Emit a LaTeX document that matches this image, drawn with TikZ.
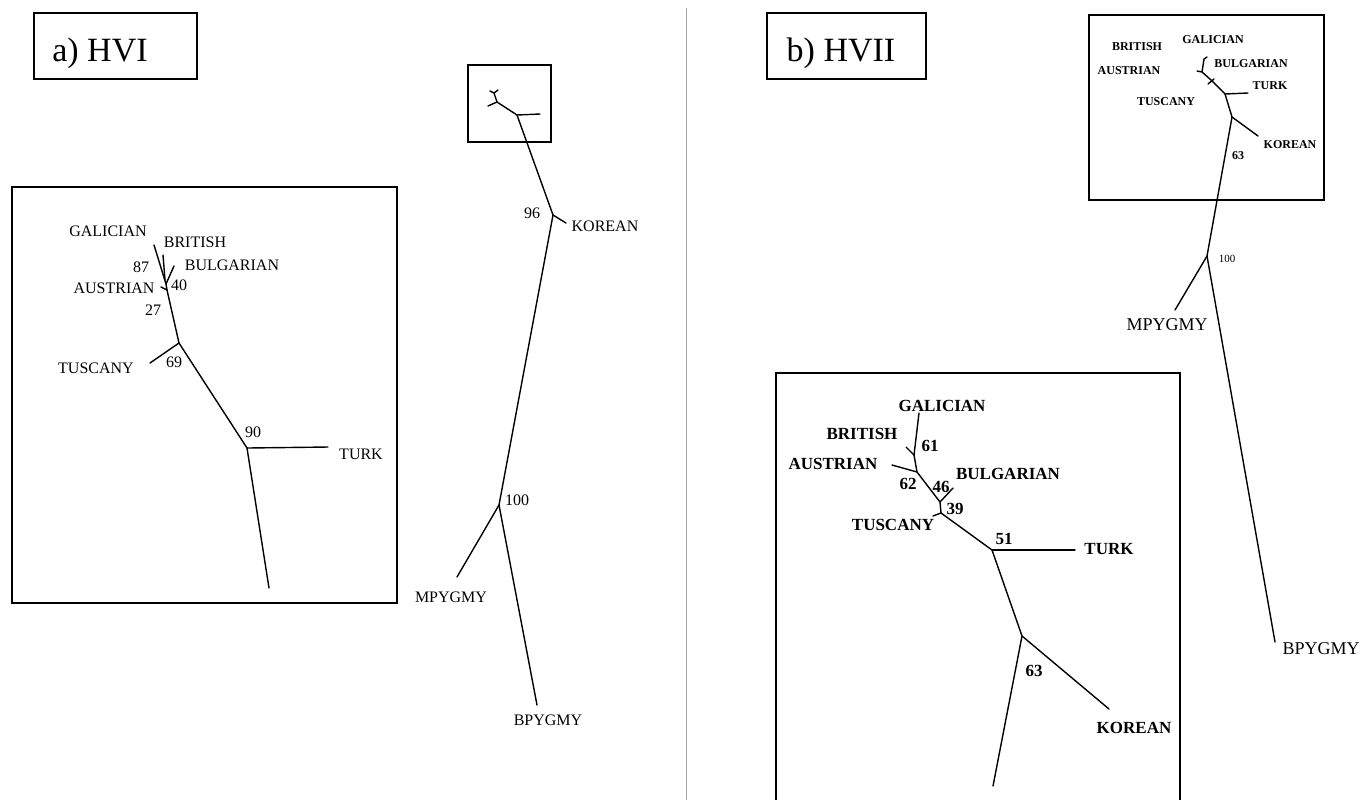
\documentclass[tikz,border=0pt]{standalone}
\usepackage{fontspec}
\setmainfont{Liberation Serif}
\begin{document}
\begin{tikzpicture}[x=0.5pt,y=-0.5pt,
  br/.style={line width=0.7pt,line cap=round,line join=round},
  frame/.style={line width=0.7pt},
  lbl/.style={inner sep=0pt,font=\fontsize{8}{9.6}\selectfont},
  blbl/.style={inner sep=0pt,font=\fontsize{8.5}{10}\selectfont\bfseries},
  slbl/.style={inner sep=0pt,font=\fontsize{6}{7}\selectfont\bfseries},
  mlbl/.style={inner sep=0pt,font=\fontsize{9}{10}\selectfont},
  tnum/.style={inner sep=0pt,font=\fontsize{5.5}{6}\selectfont},
  ttl/.style={inner sep=0pt,anchor=base,font=\fontsize{17}{20}\selectfont}]
\useasboundingbox (0,0) rectangle (1363,800);

% ---------- divider ----------
\coordinate (dtop) at (686,8);
\coordinate (dbot) at (686,800);
\draw[gray!70,line width=0.5pt] (dtop) -- (dbot);

% ---------- titles ----------
\draw[frame] (34,13) rectangle (197,79);
\node[ttl] (ta) at (100,61) {a) HVI};
\draw[frame] (767,13) rectangle (926,79);
\node[ttl] (tb) at (841,61) {b) HVII};

% ================= PANEL a =================
% inset frame
\draw[frame] (12,187) rectangle (397,603);
% inset tree
\coordinate (lg) at (154,245);
\coordinate (lb) at (163,255);
\coordinate (lbx) at (165,280);
\coordinate (lbu) at (174,266);
\coordinate (lj1) at (166,284);
\coordinate (la) at (161,287);
\coordinate (lj2) at (167,290);
\coordinate (l69) at (179,343);
\coordinate (lt) at (150,363);
\coordinate (l90) at (247,448);
\coordinate (ltk) at (328,447);
\coordinate (lbot) at (269,588);
\draw[br] (lg) -- (lj1) -- (lj2) -- (l69) -- (l90) -- (lbot);
\draw[br] (lb) -- (lbx);
\draw[br] (lbu) -- (lj1);
\draw[br] (la) -- (lj2);
\draw[br] (l69) -- (lt);
\draw[br] (l90) -- (ltk);
\node[lbl] (lGAL) at (108,231) {GALICIAN};
\node[lbl] (lBRI) at (195,242) {BRITISH};
\node[lbl] (lBUL) at (232,265) {BULGARIAN};
\node[lbl] (l87) at (141,267) {87};
\node[lbl] (l40) at (179,285) {40};
\node[lbl] (lAUS) at (114,288) {AUSTRIAN};
\node[lbl] (l27) at (153,310) {27};
\node[lbl] (lTUS) at (96,368) {TUSCANY};
\node[lbl] (l69n) at (174,362) {69};
\node[lbl] (l90n) at (253,432) {90};
\node[lbl] (lTUR) at (361,454) {TURK};

% main tree a
\draw[frame] (468,65) rectangle (551,142);
\coordinate (m1) at (517,115);
\coordinate (mtk) at (540,114);
\coordinate (mj) at (497,102);
\coordinate (ml) at (488,106);
\coordinate (mu) at (494,93);
\coordinate (mu1) at (490,91);
\coordinate (mu2) at (498,90);
\coordinate (m96) at (553,215);
\coordinate (mko) at (566,223);
\coordinate (m100) at (499,505);
\coordinate (mmp) at (457,577);
\coordinate (mbp) at (537,705);
\draw[br] (m1) -- (mtk);
\draw[br] (m1) -- (mj) -- (ml);
\draw[br] (mj) -- (mu) -- (mu1);
\draw[br] (mu) -- (mu2);
\draw[br] (m1) -- (m96) -- (m100) -- (mbp);
\draw[br] (m96) -- (mko);
\draw[br] (m100) -- (mmp);
\node[lbl] (m96n) at (532,213) {96};
\node[lbl] (mKOR) at (605,226) {KOREAN};
\node[lbl] (m100n) at (517,500) {100};
\node[lbl] (mMPY) at (451,597) {MPYGMY};
\node[lbl] (mBPY) at (548,720) {BPYGMY};

% ================= PANEL b =================
% top small box
\draw[frame] (1089,15) rectangle (1324,200);
\coordinate (rg) at (1204,59);
\coordinate (rgh) at (1207,57);
\coordinate (r1) at (1202,72);
\coordinate (ra) at (1197,71);
\coordinate (r2) at (1211,80);
\coordinate (r2t) at (1208,84);
\coordinate (r2u) at (1214,79);
\coordinate (r51) at (1225,94);
\coordinate (rtk) at (1248,93);
\coordinate (r63) at (1232,117);
\coordinate (rko) at (1258,136);
\coordinate (r100) at (1207,256);
\coordinate (rmp) at (1175,310);
\coordinate (rbp) at (1275,642);
\draw[br] (rgh) -- (rg) -- (r1) -- (r2) -- (r51) -- (r63) -- (r100) -- (rbp);
\draw[br] (ra) -- (r1);
\draw[br] (r2t) -- (r2u);
\draw[br] (r51) -- (rtk);
\draw[br] (r63) -- (rko);
\draw[br] (r100) -- (rmp);
\node[slbl] (rBRI) at (1137,47) {BRITISH};
\node[slbl] (rGAL) at (1213,40) {GALICIAN};
\node[slbl] (rAUS) at (1129,71) {AUSTRIAN};
\node[slbl] (rBUL) at (1251,64) {BULGARIAN};
\node[slbl] (rTUR) at (1270,86) {TURK};
\node[slbl] (rTUS) at (1166,102) {TUSCANY};
\node[slbl] (rKOR) at (1290,145) {KOREAN};
\node[slbl] (r63n) at (1238,156) {63};
\node[tnum] (r100n) at (1227,259) {100};
\node[mlbl] (rMPY) at (1167,325) {MPYGMY};
\node[mlbl] (rBPY) at (1321,649) {BPYGMY};

% bottom inset (open at bottom)
\coordinate (bf1) at (776,800);
\coordinate (bf2) at (776,373);
\coordinate (bf3) at (1180,373);
\coordinate (bf4) at (1180,800);
\draw[frame] (bf1) -- (bf2) -- (bf3) -- (bf4);
\coordinate (bg) at (919,413);
\coordinate (bj1) at (914,455);
\coordinate (bb) at (906,447);
\coordinate (bj62) at (917,472);
\coordinate (ba) at (892,465);
\coordinate (bj46) at (940,502);
\coordinate (bbu) at (953,488);
\coordinate (bj39) at (941,513);
\coordinate (bts) at (933,516);
\coordinate (b51) at (992,550);
\coordinate (btk) at (1075,550);
\coordinate (b63) at (1022,636);
\coordinate (bko) at (1109,709);
\coordinate (bbot) at (993,786);
\draw[br] (bg) -- (bj1) -- (bj62) -- (bj46) -- (bj39) -- (b51) -- (b63) -- (bbot);
\draw[br] (bb) -- (bj1);
\draw[br] (ba) -- (bj62);
\draw[br] (bbu) -- (bj46);
\draw[br] (bts) -- (bj39);
\draw[br] (b51) -- (btk);
\draw[br] (b63) -- (bko);
\node[blbl] (bGAL) at (942,406) {GALICIAN};
\node[blbl] (bBRI) at (862,434) {BRITISH};
\node[blbl] (b61n) at (930,446) {61};
\node[blbl] (bAUS) at (833,464) {AUSTRIAN};
\node[blbl] (bBUL) at (1008,474) {BULGARIAN};
\node[blbl] (b62n) at (908,484) {62};
\node[blbl] (b46n) at (941,487) {46};
\node[blbl] (b39n) at (955,509) {39};
\node[blbl] (bTUS) at (893,525) {TUSCANY};
\node[blbl] (b51n) at (1004,539) {51};
\node[blbl] (bTUR) at (1109,549) {TURK};
\node[blbl] (b63n) at (1034,671) {63};
\node[blbl] (bKOR) at (1134,728) {KOREAN};
\end{tikzpicture}
\end{document}
